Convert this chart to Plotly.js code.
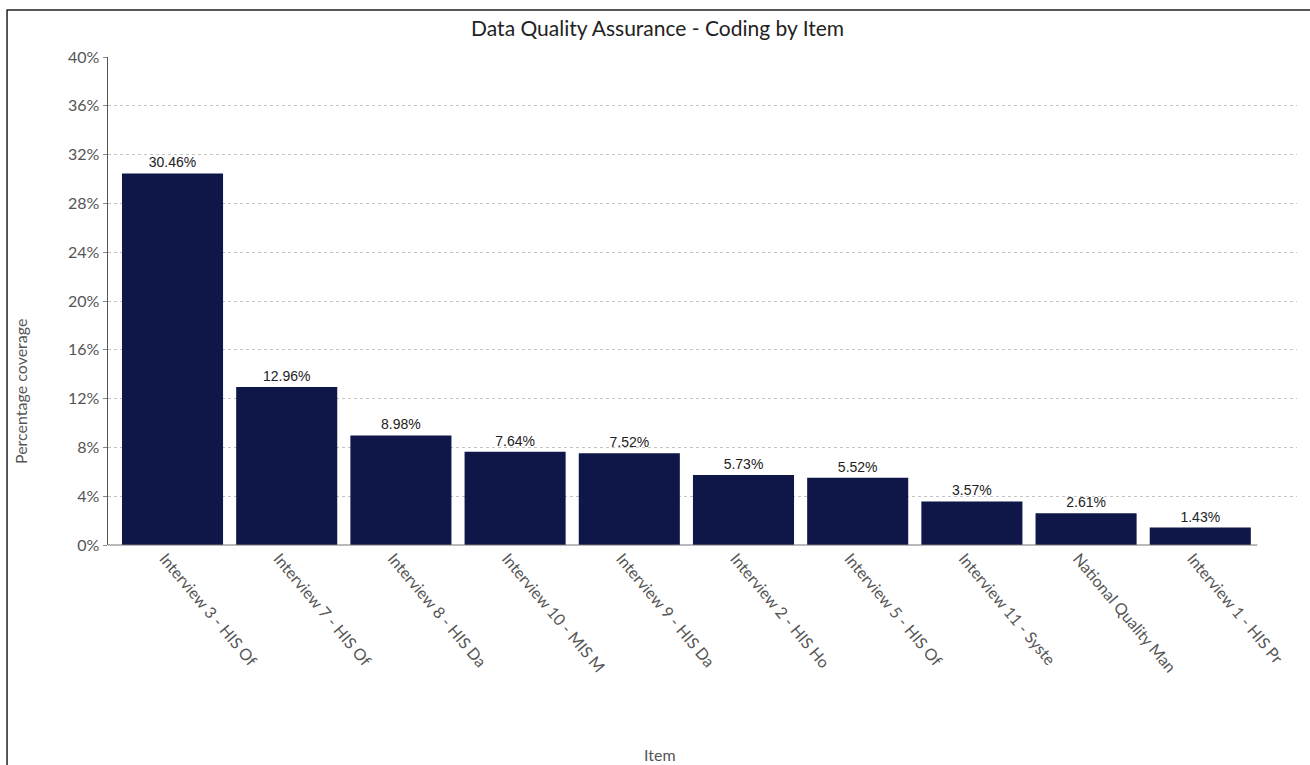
<!DOCTYPE html>
<html>
<head>
<meta charset="utf-8">
<script src="https://cdn.plot.ly/plotly-3.0.1.min.js"></script>
<style>html,body{margin:0;padding:0;background:#fff;}#chart{width:1310px;height:765px;}</style>
</head>
<body>
<div id="chart"></div>
<script>
const categories = [
  "Interview 3 - HIS Of",
  "Interview 7 - HIS Of",
  "Interview 8 - HIS Da",
  "Interview 10 - MIS M",
  "Interview 9 - HIS Da",
  "Interview 2 - HIS Ho",
  "Interview 5 - HIS Of",
  "Interview 11 - Syste",
  "National Quality Man",
  "Interview 1 - HIS Pr"
];
const coverage = [30.46, 12.96, 8.98, 7.64, 7.52, 5.73, 5.52, 3.57, 2.61, 1.43];
const yTicks = [0, 4, 8, 12, 16, 20, 24, 28, 32, 36, 40];

const xRange = [-0.565, 9.847];

const trace = {
  type: 'bar',
  x: categories.map((c, i) => i),
  y: coverage,
  marker: {color: '#0e1747', line: {color: '#0e1747', width: 0}},
  width: 0.885,
  text: coverage.map(v => v.toFixed(2) + '%'),
  textposition: 'outside',
  textfont: {family: 'Liberation Sans, Arial, sans-serif', size: 14, color: '#222'},
  cliponaxis: false,
  hoverinfo: 'skip'
};

const labelFont = {family: 'Lato, sans-serif', size: 16, color: '#555'};

const layout = {
  width: 1310, height: 765,
  margin: {l: 108, r: 13, t: 57, b: 220},
  paper_bgcolor: '#fff', plot_bgcolor: '#fff',
  showlegend: false,
  title: {
    text: 'Data Quality Assurance - Coding by Item',
    font: {family: 'Lato, sans-serif', size: 21, color: '#222'},
    x: 0.502, xref: 'container', xanchor: 'center',
    y: 0.963, yref: 'container', yanchor: 'middle'
  },
  xaxis: {
    tickmode: 'array',
    tickvals: categories.map((c, i) => i),
    ticktext: categories,
    tickangle: 50,
    ticklabelshift: -8,
    range: xRange,
    showgrid: false,
    showline: false,
    ticks: '',
    tickfont: labelFont,
    automargin: false,
    zeroline: false
  },
  yaxis: {
    range: [0, 40],
    tickmode: 'array',
    tickvals: yTicks,
    ticktext: yTicks.map(v => v + '%'),
    showgrid: true, gridcolor: '#c4c4c4', griddash: 'dot', gridwidth: 1,
    showline: true, linecolor: '#555', linewidth: 1.5,
    ticks: 'outside', ticklen: 4, tickcolor: '#888',
    tickfont: labelFont,
    automargin: false,
    zeroline: false
  },
  annotations: [
    {text: 'Percentage coverage', xref: 'paper', yref: 'paper', x: -0.074, y: 0.3135,
     xanchor: 'center', yanchor: 'middle', textangle: -90, showarrow: false, font: labelFont},
    {text: 'Item', xref: 'paper', yref: 'paper', x: 0.464, y: -0.430,
     xanchor: 'center', yanchor: 'middle', showarrow: false, font: labelFont}
  ],
  shapes: [
    {type: 'rect', xref: 'paper', yref: 'paper',
     x0: -0.0849, x1: 1.3, y0: -0.8, y1: 1.0963,
     line: {color: '#222', width: 1.5}, fillcolor: 'rgba(0,0,0,0)', layer: 'below'},
    {type: 'line', xref: 'x', yref: 'paper', x0: xRange[0], x1: categories.length - 0.5, y0: 0, y1: 0,
     line: {color: '#777', width: 1.2}, layer: 'above'}
  ]
};

Plotly.newPlot('chart', [trace], layout, {displayModeBar: false, staticPlot: true});
</script>
</body>
</html>
